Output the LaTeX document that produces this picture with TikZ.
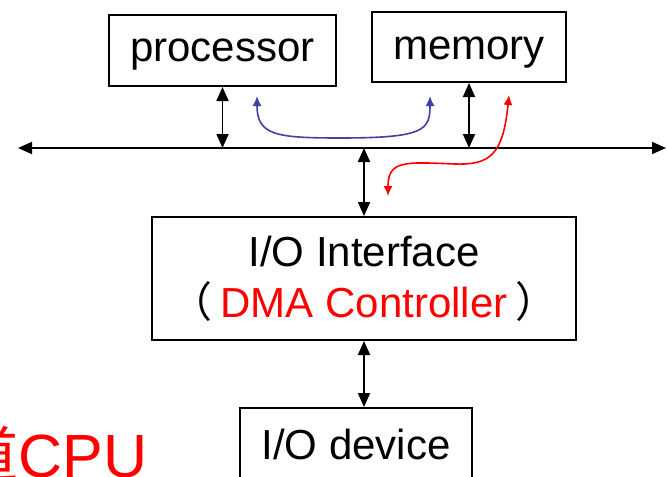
\documentclass[tikz,border=0pt]{standalone}
\usepackage{fontspec}
\setmainfont{Liberation Sans}
\newfontfamily\cjk{Noto Sans CJK SC}
\usetikzlibrary{arrows.meta}

\definecolor{azul}{RGB}{64,64,168}

\tikzset{
	caja/.style={draw, line width=1pt, inner sep=0pt, font=\fontsize{21}{25.5}\selectfont},
	enlace/.style={line width=0.9pt, {Triangle[length=7pt,width=6pt]}-{Triangle[length=7pt,width=6pt]}},
	flecha/.style={line width=0.8pt, {Latex[length=5pt,width=4.5pt]}-{Latex[length=5pt,width=4.5pt]}}
}

\begin{document}
\begin{tikzpicture}[x=0.5pt, y=-0.5pt]

\clip (0,0) rectangle (667,476);

% Bloques
\node[caja, minimum width=113.5pt, minimum height=35.5pt, text height=15pt] (proc) at (222.5,50.5) {processor};
\node[caja, minimum width=97pt, minimum height=35pt, text height=17pt] (mem) at (469,47) {memory};
\node[caja, minimum width=212pt, minimum height=61.5pt, align=center] (iface) at (364,278.5)
	{I/O Interface\\{\cjk （}\hspace{4pt}\textcolor{red}{DMA Controller}\hspace{4pt}{\cjk ）}};
\node[caja, minimum width=116pt, minimum height=36pt] (dev) at (356,444) {I/O device};

% Bus del sistema
\coordinate (busL) at (18,148);
\coordinate (busR) at (666,148);
\draw[enlace] (busL) -- (busR);

% Enlaces al bus
	\foreach \n in {proc, mem}
		\draw[enlace] (\n.south) -- (\n.south |- busL);

	\draw[enlace] (iface.north |- busL) -- (iface.north);
	\draw[enlace] (iface.south) -- (iface.south |- dev.north);

% Caminos de datos
\coordinate (azulA) at (257,96);
\coordinate (azulB) at (430,96);
\draw[flecha, azul] (azulA) .. controls (257,135) and (275,138) .. (340,138)
	.. controls (425,138) and (430,130) .. (azulB);

\coordinate (rojoA) at (509,95);
\coordinate (rojoB) at (388,196);
\draw[flecha, red] (rojoA) .. controls (503,155) and (490,165) .. (455,164)
	.. controls (405,162) and (388,160) .. (rojoB);

% Nota
\node[anchor=base east, text=red, inner sep=0pt, font=\fontsize{30.5}{30.5}\selectfont] (nota) at (148,477) {{\cjk 道}CPU};

\end{tikzpicture}
\end{document}
